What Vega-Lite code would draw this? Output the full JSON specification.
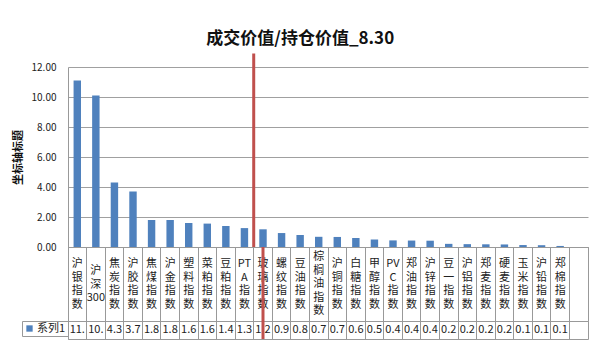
{
  "$schema": "https://vega.github.io/schema/vega-lite/v6.json",
  "padding": {"left": 12, "right": 10, "top": 30, "bottom": 5},
  "bounds": "flush",
  "title": {"text": "成交价值/持仓价值_8.30", "fontSize": 17, "font": "Noto Sans CJK SC", "fontWeight": "bold", "color": "#111", "offset": 4, "anchor": "middle", "frame": "bounds"},
  "config": {"font": "Noto Sans CJK SC", "view": {"stroke": null}},
  "datasets": {
    "main": [
      {"cat": "沪银指数", "label": "沪\n银\n指\n数", "v": 11.1, "series": "系列1"},
      {"cat": "沪深300", "label": "沪\n深\n300", "v": 10.1, "series": "系列1"},
      {"cat": "焦炭指数", "label": "焦\n炭\n指\n数", "v": 4.3, "series": "系列1"},
      {"cat": "沪胶指数", "label": "沪\n胶\n指\n数", "v": 3.7, "series": "系列1"},
      {"cat": "焦煤指数", "label": "焦\n煤\n指\n数", "v": 1.8, "series": "系列1"},
      {"cat": "沪金指数", "label": "沪\n金\n指\n数", "v": 1.8, "series": "系列1"},
      {"cat": "塑料指数", "label": "塑\n料\n指\n数", "v": 1.6, "series": "系列1"},
      {"cat": "菜粕指数", "label": "菜\n粕\n指\n数", "v": 1.56, "series": "系列1"},
      {"cat": "豆粕指数", "label": "豆\n粕\n指\n数", "v": 1.4, "series": "系列1"},
      {"cat": "PTA指数", "label": "PT\nA\n指\n数", "v": 1.26, "series": "系列1"},
      {"cat": "玻璃指数", "label": "玻\n璃\n指\n数", "v": 1.18, "series": "系列1"},
      {"cat": "螺纹指数", "label": "螺\n纹\n指\n数", "v": 0.93, "series": "系列1"},
      {"cat": "豆油指数", "label": "豆\n油\n指\n数", "v": 0.8, "series": "系列1"},
      {"cat": "棕榈油指数", "label": "棕\n榈\n油\n指\n数", "v": 0.68, "series": "系列1"},
      {"cat": "沪铜指数", "label": "沪\n铜\n指\n数", "v": 0.67, "series": "系列1"},
      {"cat": "白糖指数", "label": "白\n糖\n指\n数", "v": 0.6, "series": "系列1"},
      {"cat": "甲醇指数", "label": "甲\n醇\n指\n数", "v": 0.5, "series": "系列1"},
      {"cat": "PVC指数", "label": "PV\nC\n指\n数", "v": 0.44, "series": "系列1"},
      {"cat": "郑油指数", "label": "郑\n油\n指\n数", "v": 0.43, "series": "系列1"},
      {"cat": "沪锌指数", "label": "沪\n锌\n指\n数", "v": 0.42, "series": "系列1"},
      {"cat": "豆一指数", "label": "豆\n一\n指\n数", "v": 0.21, "series": "系列1"},
      {"cat": "沪铝指数", "label": "沪\n铝\n指\n数", "v": 0.19, "series": "系列1"},
      {"cat": "郑麦指数", "label": "郑\n麦\n指\n数", "v": 0.18, "series": "系列1"},
      {"cat": "硬麦指数", "label": "硬\n麦\n指\n数", "v": 0.17, "series": "系列1"},
      {"cat": "玉米指数", "label": "玉\n米\n指\n数", "v": 0.13, "series": "系列1"},
      {"cat": "沪铅指数", "label": "沪\n铅\n指\n数", "v": 0.12, "series": "系列1"},
      {"cat": "郑棉指数", "label": "郑\n棉\n指\n数", "v": 0.07, "series": "系列1"},
      {"cat": " ", "label": "", "v": null, "series": "系列1"}
    ],
    "marker": [{"cat": "玻璃指数"}]
  },
  "data": {"name": "main"},
  "spacing": 0,
  "resolve": {"scale": {"color": "independent"}, "legend": {"color": "independent"}},
  "vconcat": [
    {
      "width": 520,
      "height": 180,
      "layer": [
        {
          "mark": {"type": "bar", "color": "#4F81BD", "width": {"band": 0.4}},
          "encoding": {
            "x": {"field": "cat", "type": "nominal", "scale": {"domain": ["沪银指数", "沪深300", "焦炭指数", "沪胶指数", "焦煤指数", "沪金指数", "塑料指数", "菜粕指数", "豆粕指数", "PTA指数", "玻璃指数", "螺纹指数", "豆油指数", "棕榈油指数", "沪铜指数", "白糖指数", "甲醇指数", "PVC指数", "郑油指数", "沪锌指数", "豆一指数", "沪铝指数", "郑麦指数", "硬麦指数", "玉米指数", "沪铅指数", "郑棉指数", " "], "paddingInner": 0, "paddingOuter": 0}, "axis": {"labels": false, "ticks": false, "title": null, "domainColor": "#999"}},
            "y": {"field": "v", "type": "quantitative", "scale": {"domain": [0, 12]}, "axis": {"values": [0, 2, 4, 6, 8, 10, 12], "labelOverlap": false, "format": ".2f", "title": "坐标轴标题", "grid": true, "gridColor": "#a0a0a0", "domainColor": "#999", "ticks": false, "labelPadding": 12, "labelFontSize": 10, "labelColor": "#222", "titleFontSize": 11, "titleFontWeight": "bold", "titleColor": "#111", "titlePadding": 8}}
          }
        },
        {
          "data": {"name": "marker"},
          "mark": {"type": "rule", "color": "#C0504D", "strokeWidth": 3},
          "encoding": {
            "x": {"field": "cat", "type": "nominal", "bandPosition": 0},
            "y": {"datum": 12.9, "type": "quantitative", "axis": {"values": [0, 2, 4, 6, 8, 10, 12], "labelOverlap": false, "format": ".2f", "title": "坐标轴标题", "grid": true, "gridColor": "#a0a0a0", "domainColor": "#999", "ticks": false, "labelPadding": 12, "labelFontSize": 10, "labelColor": "#222", "titleFontSize": 11, "titleFontWeight": "bold", "titleColor": "#111", "titlePadding": 8}},
            "y2": {"datum": 0}
          }
        }
      ]
    },
    {
      "width": 520,
      "height": 74,
      "view": {"stroke": "#999"},
      "encoding": {
        "x": {"field": "cat", "type": "nominal", "scale": {"domain": ["沪银指数", "沪深300", "焦炭指数", "沪胶指数", "焦煤指数", "沪金指数", "塑料指数", "菜粕指数", "豆粕指数", "PTA指数", "玻璃指数", "螺纹指数", "豆油指数", "棕榈油指数", "沪铜指数", "白糖指数", "甲醇指数", "PVC指数", "郑油指数", "沪锌指数", "豆一指数", "沪铝指数", "郑麦指数", "硬麦指数", "玉米指数", "沪铅指数", "郑棉指数", " "], "paddingInner": 0, "paddingOuter": 0}, "axis": {"labels": false, "ticks": false, "domain": false, "title": null, "grid": true, "gridColor": "#999", "bandPosition": 0}}
      },
      "layer": [
        {
          "transform": [{"filter": "datum.cat !== '棕榈油指数' && datum.cat !== '沪深300'"}],
          "mark": {"type": "text", "lineBreak": "\n", "fontSize": 11, "lineHeight": 13.5, "baseline": "middle", "color": "#222", "dy": -20},
          "encoding": {"text": {"field": "label"}}
        },
        {
          "transform": [{"filter": "datum.cat === '棕榈油指数'"}],
          "mark": {"type": "text", "lineBreak": "\n", "fontSize": 11, "lineHeight": 13.5, "baseline": "middle", "color": "#222", "dy": -27},
          "encoding": {"text": {"field": "label"}}
        },
        {
          "transform": [{"filter": "datum.cat === '沪深300'"}],
          "mark": {"type": "text", "lineBreak": "\n", "fontSize": 11, "lineHeight": 13.5, "baseline": "middle", "color": "#222", "dy": -13},
          "encoding": {"text": {"field": "label"}}
        },
        {
          "data": {"name": "marker"},
          "mark": {"type": "rule", "color": "#C0504D", "strokeWidth": 3},
          "encoding": {}
        }
      ]
    },
    {
      "width": 520,
      "height": 18,
      "view": {"stroke": "#999"},
      "encoding": {
        "x": {"field": "cat", "type": "nominal", "scale": {"domain": ["沪银指数", "沪深300", "焦炭指数", "沪胶指数", "焦煤指数", "沪金指数", "塑料指数", "菜粕指数", "豆粕指数", "PTA指数", "玻璃指数", "螺纹指数", "豆油指数", "棕榈油指数", "沪铜指数", "白糖指数", "甲醇指数", "PVC指数", "郑油指数", "沪锌指数", "豆一指数", "沪铝指数", "郑麦指数", "硬麦指数", "玉米指数", "沪铅指数", "郑棉指数", " "], "paddingInner": 0, "paddingOuter": 0}, "axis": {"labels": false, "ticks": false, "domain": false, "title": null, "grid": true, "gridColor": "#999", "bandPosition": 0}}
      },
      "layer": [
        {
          "transform": [{"filter": "isValid(datum.v)"}],
          "mark": {"type": "text", "fontSize": 11, "limit": 19, "ellipsis": "\u200b", "baseline": "middle", "color": "#222"},
          "encoding": {
            "text": {"field": "v", "type": "quantitative", "format": ".1f"}
          }
        },
        {
          "mark": {"type": "square", "size": 0, "filled": true},
          "encoding": {
            "color": {"field": "series", "type": "nominal", "scale": {"range": ["#4F81BD"]}, "legend": {"orient": "left", "title": null, "symbolType": "square", "symbolSize": 40, "symbolOpacity": 1, "labelOffset": 2, "labelFontSize": 11, "labelColor": "#222", "strokeColor": "#999", "padding": 2, "offset": 0}}
          }
        },
        {
          "data": {"name": "marker"},
          "mark": {"type": "rule", "color": "#C0504D", "strokeWidth": 3},
          "encoding": {}
        }
      ]
    }
  ]
}
